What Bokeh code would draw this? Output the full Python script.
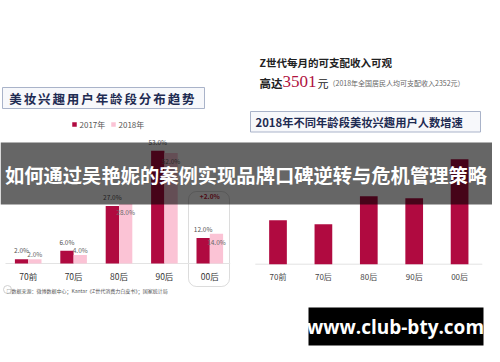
from bokeh.plotting import figure
from bokeh.models import Range1d, ColumnDataSource, BoxAnnotation
from bokeh.transform import dodge
from bokeh.core.properties import value
from bokeh.embed import file_html
from bokeh.resources import INLINE

# ---------------- data ----------------
age_groups = ["70前", "70后", "80后", "90后", "00后"]
share_2017 = [2.0, 6.0, 27.0, 53.0, 12.0]
share_2018 = [2.0, 4.0, 28.0, 52.0, 14.0]
growth_2018 = [44, 40, 68, 66, 105]
legend_labels = ["2017年", "2018年"]
highlight_change = "+2.0%"

left_title = "美妆兴趣用户年龄段分布趋势"
right_title = "2018年不同年龄段美妆兴趣用户人数增速"
income_line1 = "Z世代每月的可支配收入可观"
income_prefix = "高达"
income_value = "3501"
income_unit = "元"
income_note = "（2018年全国居民人均可支配收入2352元）"
source_note = "数据来源：微博数据中心；Kantar《Z世代消费力白皮书》；国家统计局"
banner_text = "如何通过吴艳妮的案例实现品牌口碑逆转与危机管理策略"
watermark = "www.club-bty.com"

CJK = value("Noto Sans CJK SC")
DARK = "#b00a40"
PINK = "#fbc3d5"
NAVY = "#1e2b52"

# ---------------- canvas (page pixel coordinates) ----------------
PX_L, PX_R, PX_T, PX_B = 8, 500, 8, 362
p = figure(width=PX_R - PX_L, height=PX_B - PX_T,
           x_range=Range1d(PX_L, PX_R), y_range=Range1d(PX_B, PX_T),
           output_backend="svg", toolbar_location=None, min_border=0,
           x_axis_location=None, y_axis_location=None,
           background_fill_color="white", border_fill_color="white")
p.grid.visible = False
p.outline_line_color = None


def lin_x(v_a, px_a, v_b, px_b):
    k = (v_b - v_a) / (px_b - px_a)
    return Range1d(start=v_a + (PX_L - px_a) * k, end=v_a + (PX_R - px_a) * k)


def lin_y(v_a, px_a, v_b, px_b):
    k = (v_b - v_a) / (px_b - px_a)
    return Range1d(start=v_a + (PX_B - px_a) * k, end=v_a + (PX_T - px_a) * k)


p.extra_x_ranges = {"lx": lin_x(0, 35.7, 1, 81.1), "rx": lin_x(0, 285.5, 1, 330.9)}
p.extra_y_ranges = {"ly": lin_y(0, 271.0, 53, 158.3), "ry": lin_y(0, 271.7, 100, 171.7)}

# ---------------- highlight box (under everything) ----------------
p.add_layout(BoxAnnotation(left=196, right=237, top=199, bottom=294,
                           fill_alpha=0, line_color="#8a8a8a", line_width=1,
                           border_radius=8, level="underlay"))

# ---------------- left chart ----------------
idx = list(range(len(age_groups)))
lsrc = ColumnDataSource(dict(
    idx=idx, cat=age_groups, a=share_2017, b=share_2018,
    la=[f"{v:.1f}%" for v in share_2017],
    lb=[f"{v:.1f}%" for v in share_2018],
    boff=[-5 if v < 5 else 8 for v in share_2018],
))
p.segment(x0=-0.5, x1=4.45, y0=0, y1=0, x_range_name="lx", y_range_name="ly",
          line_color="#e3e3e3", line_width=1)
p.vbar(x=dodge("idx", -0.1465, range=p.extra_x_ranges["lx"]), top="a", width=0.293,
       source=lsrc, x_range_name="lx", y_range_name="ly", fill_color=DARK, line_color=None)
p.vbar(x=dodge("idx", 0.1465, range=p.extra_x_ranges["lx"]), top="b", width=0.293,
       source=lsrc, x_range_name="lx", y_range_name="ly", fill_color=PINK, line_color=None)
p.text(x=dodge("idx", -0.1465, range=p.extra_x_ranges["lx"]), y="a", text="la", source=lsrc,
       x_range_name="lx", y_range_name="ly", y_offset=-9,
       text_font=CJK, text_font_size="6.5px", text_color="#555555",
       text_align="center", text_baseline="middle")
p.text(x=dodge("idx", 0.1465, range=p.extra_x_ranges["lx"]), y="b", text="lb", source=lsrc,
       x_range_name="lx", y_range_name="ly", y_offset="boff",
       text_font=CJK, text_font_size="6.5px", text_color="#666666",
       text_align="center", text_baseline="middle")
p.text(x="idx", y=0, text="cat", source=lsrc, x_range_name="lx", y_range_name="ly",
       y_offset=12.5, text_font=CJK, text_font_size="8.5px", text_color="#333333",
       text_align="center", text_baseline="middle")
# +2.0% above the 00后 group
p.text(x=[idx[-1]], y=[max(share_2017[-1], share_2018[-1])], text=[highlight_change],
       x_range_name="lx", y_range_name="ly", y_offset=-38,
       text_font=CJK, text_font_size="6.5px", text_font_style="bold",
       text_color="#c4203a", text_align="center", text_baseline="middle")

# legend
p.scatter(x=[82, 121], y=[132, 132], marker="square", size=4.5,
          fill_color=[DARK, PINK], line_color=None)
p.text(x=[87, 126], y=[132, 132], text=legend_labels, text_font=CJK,
       text_font_size="8px", text_color="#555555", text_baseline="middle")

# left title box
p.quad(left=10, right=212, top=95, bottom=116, fill_color="#f7f8fb",
       line_color="#a9b3c9", line_width=1)
p.text(x=[23 + i * 14.4 for i in range(len(left_title))], y=[105.5] * len(left_title),
       text=list(left_title), text_font=CJK, text_font_size="12.5px",
       text_font_style="bold", text_color=NAVY,
       text_align="center", text_baseline="middle")

# ---------------- right chart ----------------
rsrc = ColumnDataSource(dict(idx=idx, cat=age_groups, g=growth_2018))
p.segment(x0=-0.5, x1=4.5, y0=0, y1=0, x_range_name="rx", y_range_name="ry",
          line_color="#e3e3e3", line_width=1)
p.vbar(x="idx", top="g", width=0.39, source=rsrc, x_range_name="rx", y_range_name="ry",
       fill_color=DARK, line_color=None)
p.text(x="idx", y=0, text="cat", source=rsrc, x_range_name="rx", y_range_name="ry",
       y_offset=12.5, text_font=CJK, text_font_size="8px", text_color="#444444",
       text_align="center", text_baseline="middle")

# right header texts
p.text(x=[267], y=[69.5], text=[income_line1], text_font=CJK, text_font_size="10.5px",
       text_font_style="bold", text_color="#222222", text_baseline="middle")
p.text(x=[267], y=[90], text=[income_prefix], text_font=CJK, text_font_size="11.5px",
       text_font_style="bold", text_color="#222222", text_baseline="middle")
p.text(x=[290], y=[89], text=[income_value], text_font=value("Liberation Serif"),
       text_font_size="17px", text_color="#b0133f", text_baseline="middle")
p.text(x=[325], y=[90.5], text=[income_unit], text_font=CJK, text_font_size="11px",
       text_color="#222222", text_baseline="middle")
p.text(x=[336], y=[90], text=[income_note], text_font=CJK, text_font_size="7px",
       text_color="#666666", text_baseline="middle")

p.quad(left=258, right=488, top=119, bottom=139.5, fill_color="#f7f8fb",
       line_color="#a9b3c9", line_width=1)
p.text(x=[263], y=[129.5], text=[right_title], text_font=CJK, text_font_size="11.3px",
       text_font_style="bold", text_color=NAVY, text_baseline="middle")

# footer
p.scatter(x=[15], y=[297], marker="circle", size=8, fill_color=None, line_color="#d0d0d0")
p.text(x=[14], y=[297.5], text=["□" + source_note], text_font=CJK, text_font_size="5px",
       text_color="#555555", text_baseline="middle")

# ---------------- overlay banner ----------------
p.quad(left=PX_L, right=PX_R, top=150, bottom=212, fill_color="black",
       fill_alpha=0.6, line_color=None)
p.text(x=[253.5], y=[182.5], text=[banner_text], text_font=CJK, text_font_size="19.3px",
       text_font_style="bold", text_color="white",
       text_align="center", text_baseline="middle")

# watermark
p.quad(left=316, right=491, top=315, bottom=353, fill_color="black", line_color=None)
p.text(x=[403], y=[334], text=[watermark], text_font=value("Open Sans"),
       text_font_size="19px", text_font_style="bold", text_color="white",
       text_align="center", text_baseline="middle")

open("out.html", "w").write(file_html(p, INLINE))
